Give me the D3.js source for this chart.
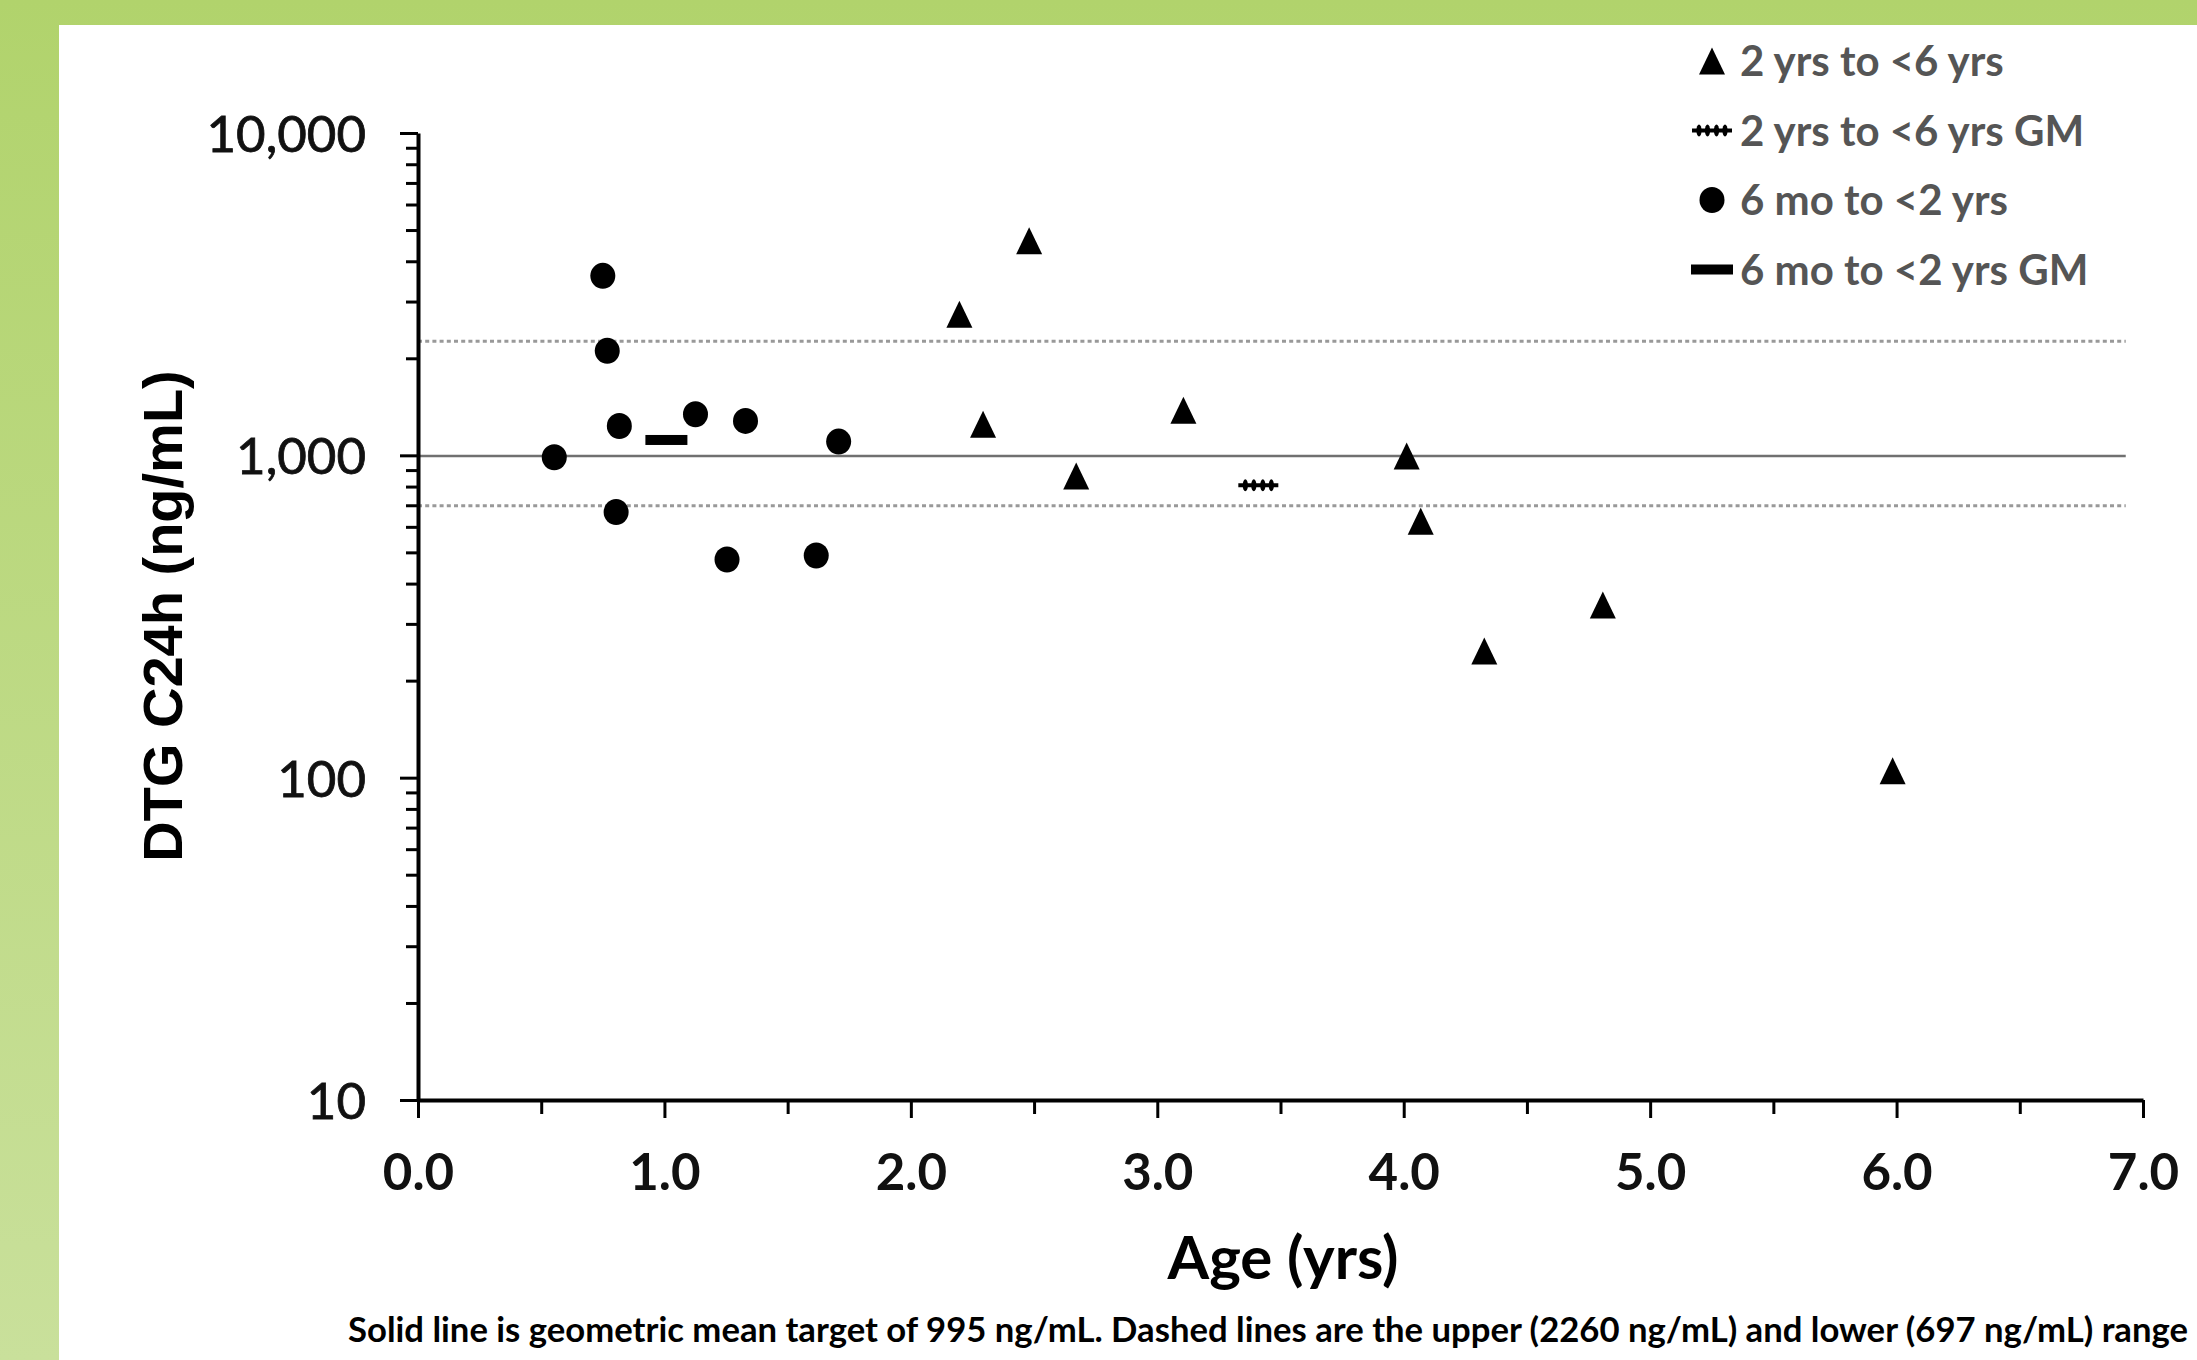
<!DOCTYPE html>
<meta charset="utf-8" />
<script src="https://d3js.org/d3.v7.min.js"></script>
<body style="margin:0;overflow:hidden">
<svg id="chart" width="2197" height="1360" style="display:block"></svg>
<script>
/* ── DATA ── */
const ageInfant  = [0.553, 0.750, 0.768, 0.817, 0.804, 1.126, 1.329, 1.254, 1.616, 1.707];
const concInfant = [986, 3605, 2109, 1233, 667, 1341, 1279, 475, 489, 1103];
const ageChild   = [2.197, 2.480, 2.293, 2.671, 3.106, 4.012, 4.069, 4.327, 4.808, 5.984];
const concChild  = [2742, 4631, 1248, 862, 1380, 995, 625, 247, 343, 105];
const gmInfant   = {age: 1.008, conc: 1116};
const gmChild    = {age: 3.41,  conc: 807};
const refValues  = [2260, 995, 697];          // upper, target, lower
const refStyle   = ["dot", "solid", "dot"];
const refEnd     = 6.93;
const yMajor     = [10, 100, 1000, 10000];
const xMajor     = [0, 1, 2, 3, 4, 5, 6, 7];
const legendKeys = ["2 yrs to <6 yrs", "2 yrs to <6 yrs GM", "6 mo to <2 yrs", "6 mo to <2 yrs GM"];
const legendSym  = ["tri", "wavy", "circle", "bar"];
const caption    = "Solid line is geometric mean target of 995 ng/mL. Dashed lines are the upper (2260 ng/mL) and lower (697 ng/mL) range";

/* ── LAYOUT ── */
const W = 2197, H = 1360;
const svg = d3.select("#chart");

const grad = svg.append("defs").append("linearGradient")
  .attr("id","bg").attr("x1",0).attr("y1",0).attr("x2",0).attr("y2",1);
grad.append("stop").attr("offset","0%").attr("stop-color","#b1d36c");
grad.append("stop").attr("offset","100%").attr("stop-color","#c9e09b");
svg.append("rect").attr("width",W).attr("height",H).attr("fill","url(#bg)");
svg.append("rect").attr("x",59).attr("y",25).attr("width",W-59).attr("height",H-25).attr("fill","#fff");

const x = d3.scaleLinear([0,7],[418,2143]);
const y = d3.scaleLog([10,10000],[1100,133]);

/* reference lines */
svg.append("g").selectAll("line").data(refValues).join("line")
  .attr("x1",x(0)).attr("x2",x(refEnd))
  .attr("y1",d=>y(d)).attr("y2",d=>y(d))
  .attr("stroke",(d,i)=>refStyle[i]==="solid"?"#707070":"#999")
  .attr("stroke-width",(d,i)=>refStyle[i]==="solid"?2.5:3)
  .attr("stroke-dasharray",(d,i)=>refStyle[i]==="solid"?null:"4,3.2");

/* y axis: minor then major */
const yMinor = y.ticks().filter(v=>!yMajor.includes(v));
svg.append("g").attr("transform",`translate(${x(0)},0)`)
  .call(d3.axisLeft(y).tickValues(yMinor).tickSize(12).tickFormat(""))
  .call(g=>g.select(".domain").remove());
const yAx = svg.append("g").attr("transform",`translate(${x(0)},0)`)
  .call(d3.axisLeft(y).tickValues(yMajor).tickSize(18).tickSizeOuter(0).tickFormat(d3.format(",")));
yAx.selectAll("text").attr("x",-52).attr("dy","0.36em")
  .style("font-family","Lato, sans-serif").style("font-size","51px")
  .attr("fill","#111").attr("stroke","#111").attr("stroke-width",0.8);

/* x axis: minor then major */
const xMinor = d3.range(0.5,7,1);
svg.append("g").attr("transform",`translate(0,${y(10)})`)
  .call(d3.axisBottom(x).tickValues(xMinor).tickSize(14).tickFormat(""))
  .call(g=>g.select(".domain").remove());
const xAx = svg.append("g").attr("transform",`translate(0,${y(10)})`)
  .call(d3.axisBottom(x).tickValues(xMajor).tickSize(18).tickSizeOuter(0).tickFormat(d3.format(".1f")));
xAx.selectAll("text").attr("y",90).attr("dy",0)
  .style("font-family","Lato, sans-serif").style("font-size","51px").style("font-weight","700").attr("fill","#111");

svg.selectAll(".domain").attr("stroke","#000").attr("stroke-width",4);
svg.selectAll(".tick line").attr("stroke","#000").attr("stroke-width",3);

/* axis titles */
svg.append("text").attr("transform","translate(182,616) rotate(-90)")
  .attr("text-anchor","middle")
  .style("font-family","'Liberation Sans', Arial, sans-serif").style("font-size","56px").style("font-weight","700")
  .text("DTG C24h (ng/mL)");
svg.append("text").attr("x",1283).attr("y",1279).attr("text-anchor","middle")
  .style("font-family","Lato, sans-serif").style("font-size","60px").style("font-weight","700")
  .text("Age (yrs)");
svg.append("text").attr("x",348).attr("y",1342)
  .attr("textLength",1840).attr("lengthAdjust","spacingAndGlyphs")
  .style("font-family","Lato, sans-serif").style("font-size","34px").style("font-weight","700")
  .text(caption);

/* symbols */
const triPath = "M0,-13.5L13,13.5L-13,13.5Z";
function drawSym(g, type){
  if(type==="tri") g.append("path").attr("d",triPath).attr("fill","#000");
  else if(type==="circle") g.append("ellipse").attr("rx",12.5).attr("ry",13).attr("fill","#000");
  else if(type==="bar") g.append("rect").attr("x",-21).attr("y",-5).attr("width",42).attr("height",10).attr("fill","#000");
  else if(type==="wavy"){
    g.append("line").attr("x1",-20).attr("x2",20).attr("stroke","#000").attr("stroke-width",4);
    [-13,-4.5,4.5,13].forEach(dx=>g.append("ellipse").attr("cx",dx).attr("rx",2.6).attr("ry",6).attr("fill","#000"));
  }
}

const pts = [
  ...ageChild.map((a,i)=>({age:a,conc:concChild[i],sym:"tri"})),
  ...ageInfant.map((a,i)=>({age:a,conc:concInfant[i],sym:"circle"})),
  {age:gmInfant.age,conc:gmInfant.conc,sym:"bar"},
  {age:gmChild.age,conc:gmChild.conc,sym:"wavy"}
];
svg.append("g").selectAll("g").data(pts).join("g")
  .attr("transform",d=>`translate(${x(d.age)},${y(d.conc)})`)
  .each(function(d){ drawSym(d3.select(this), d.sym); });

/* legend */
const leg = svg.append("g").selectAll("g").data(legendKeys).join("g")
  .attr("transform",(d,i)=>`translate(1712,${61 + i*69.5})`);
leg.each(function(d,i){ drawSym(d3.select(this), legendSym[i]); });
leg.append("text").attr("x",28).attr("dy","0.36em")
  .style("font-family","Lato, sans-serif").style("font-size","42px").style("font-weight","700")
  .attr("fill","#555").text(d=>d);
</script>
</body>
